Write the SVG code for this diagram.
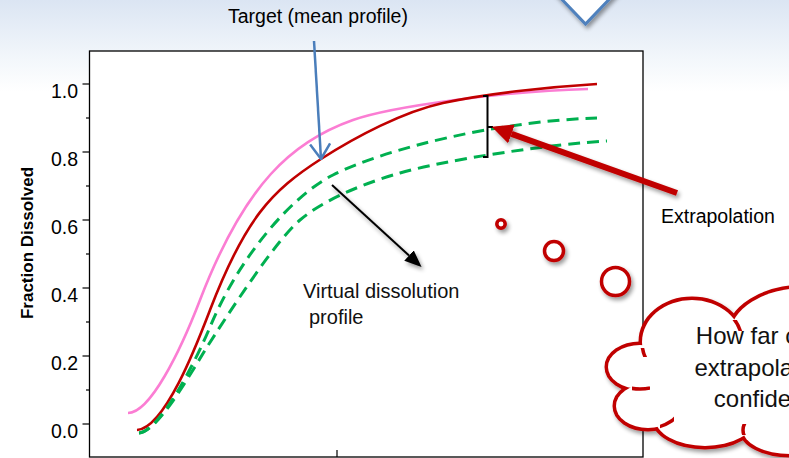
<svg xmlns="http://www.w3.org/2000/svg" width="789" height="458" viewBox="0 0 789 458">
  <defs>
    <linearGradient id="bg" x1="0" y1="0" x2="0" y2="458" gradientUnits="userSpaceOnUse">
      <stop offset="0" stop-color="#dbe5f3"/>
      <stop offset="0.13" stop-color="#f3f7fb"/>
      <stop offset="0.2" stop-color="#ffffff"/>
    </linearGradient>
    <filter id="shadow" x="-30%" y="-30%" width="170%" height="170%">
      <feGaussianBlur in="SourceAlpha" stdDeviation="2"/>
      <feOffset dx="2" dy="3"/>
      <feComponentTransfer><feFuncA type="linear" slope="0.4"/></feComponentTransfer>
      <feMerge><feMergeNode/><feMergeNode in="SourceGraphic"/></feMerge>
    </filter>
    <marker id="headBlack" viewBox="0 0 17 14" markerWidth="17" markerHeight="14" refX="0" refY="7" orient="auto" markerUnits="userSpaceOnUse">
      <path d="M0,0 L17,7 L0,14 Z" fill="#000"/>
    </marker>
    <marker id="headRed" viewBox="0 0 21 20" markerWidth="21" markerHeight="20" refX="0" refY="10" orient="auto" markerUnits="userSpaceOnUse">
      <path d="M0,0 L21,10 L0,20 Z" fill="#c00000"/>
    </marker>
    <marker id="headBlue" viewBox="0 0 17 22" markerWidth="17" markerHeight="22" refX="16" refY="11" orient="auto" markerUnits="userSpaceOnUse">
      <path d="M1,1 L16,11 L1,21" fill="none" stroke="#4a7ebb" stroke-width="2.5"/>
    </marker>
    <!-- cloud built from overlapping lobes -->
    <g id="cloudShape">
      <ellipse id="lobeUL" cx="692" cy="342" rx="50" ry="42"/>
      <ellipse id="lobeTop" cx="805" cy="335" rx="75" ry="47"/>
      <ellipse id="lobeL" cx="640" cy="367" rx="32" ry="22"/>
      <ellipse id="lobeBL" cx="648" cy="406" rx="32" ry="22"/>
      <ellipse id="lobeB" cx="705" cy="418" rx="50" ry="28"/>
      <ellipse id="lobeBR" cx="790" cy="430" rx="47" ry="24"/>
      <ellipse cx="740" cy="385" rx="85" ry="50"/>
    </g>
    <clipPath id="hookA"><rect x="724" y="320" width="22" height="11"/></clipPath>
    <clipPath id="hookB"><rect x="634" y="348" width="16" height="9"/></clipPath>
    <clipPath id="hookC"><rect x="632" y="381" width="18" height="14"/></clipPath>
    <clipPath id="hookD"><rect x="660" y="413" width="14" height="16"/></clipPath>
    <clipPath id="hookE"><rect x="738" y="424" width="12" height="11"/></clipPath>
    <style>
      .frame{fill:#fff;stroke:#000;stroke-width:1.3}
      .tick{stroke:#000;stroke-width:1.2}
      .lbl{font-family:"Liberation Sans",Arial,sans-serif;font-size:19.5px;fill:#000}
      .title{font-family:"Liberation Sans",Arial,sans-serif;font-size:17px;font-weight:bold;fill:#000}
      .note{font-family:"Liberation Sans",Arial,sans-serif;font-size:19.5px;fill:#000}
      .soft{font-family:"Liberation Sans",Arial,sans-serif;font-size:20px;fill:#111}
      .think{font-family:"Liberation Sans",Arial,sans-serif;font-size:24px;fill:#111}
      .pink{fill:none;stroke:#fb7dd3;stroke-width:2.6}
      .red{fill:none;stroke:#c00000;stroke-width:2.6}
      .green{fill:none;stroke:#00b050;stroke-width:3;stroke-dasharray:12 7}
      .bubble{fill:#fff;stroke:#c00000;stroke-width:3.5}
      .hook{fill:none;stroke:#c00000;stroke-width:3.5}
    </style>
  </defs>

  <!-- slide background -->
  <rect x="0" y="0" width="789" height="458" fill="url(#bg)"/>

  <!-- downward chevron at the top -->
  <g id="chevron" filter="url(#shadow)">
    <polygon points="551,-12 620,-12 585.5,24" fill="#fff" stroke="#4f81bd" stroke-width="3" stroke-linejoin="miter"/>
  </g>

  <!-- plot frame and axes -->
  <g id="axes">
    <rect class="frame" x="89.5" y="51" width="553.5" height="406"/>
    <g class="tick">
      <line x1="82.5" y1="84" x2="89.5" y2="84"/>
      <line x1="82.5" y1="152" x2="89.5" y2="152"/>
      <line x1="82.5" y1="220" x2="89.5" y2="220"/>
      <line x1="82.5" y1="288" x2="89.5" y2="288"/>
      <line x1="82.5" y1="356" x2="89.5" y2="356"/>
      <line x1="82.5" y1="424" x2="89.5" y2="424"/>
      <line x1="86" y1="118" x2="89.5" y2="118"/>
      <line x1="86" y1="186" x2="89.5" y2="186"/>
      <line x1="86" y1="254" x2="89.5" y2="254"/>
      <line x1="86" y1="322" x2="89.5" y2="322"/>
      <line x1="86" y1="390" x2="89.5" y2="390"/>
      <line x1="337" y1="450" x2="337" y2="457"/>
    </g>
    <g class="lbl" text-anchor="end">
      <text x="78" y="98">1.0</text>
      <text x="78" y="166">0.8</text>
      <text x="78" y="234">0.6</text>
      <text x="78" y="302">0.4</text>
      <text x="78" y="370">0.2</text>
      <text x="78" y="438">0.0</text>
    </g>
    <text class="title" transform="translate(33,243) rotate(-90)" text-anchor="middle">Fraction Dissolved</text>
  </g>

  <!-- dissolution curves -->
  <g id="curves">
    <path id="upper-profile" class="pink" d="M128,413 C150,413 180,352 200,300 C245,183 293,141 353,120 C393,106 508,91 588,89"/>
    <path id="mean-profile" class="red" d="M137,430 C165,428 197,344 210,310 C245,219 271,191 321,159 C356,136.6 403,111.8 443,103 C483,94.2 547,87 597,84"/>
    <path id="virtual-profile-a" class="green" d="M139,433 C160,431 196,361 210,327 C240,255 293,195 333,175 C388,147.5 500,121 597,118"/>
    <path id="virtual-profile-b" class="green" d="M139,433 C158,432 192,371 207,347 C227,316 275,241 300,220 C325,199 365,183 400,173 C445,160 550,144 607,141"/>
  </g>

  <!-- spread bracket -->
  <g id="bracket">
    <path d="M483,96 L487.5,96 L487.5,157 L483,157 M487.5,127 L493,127" fill="none" stroke="#000" stroke-width="2"/>
  </g>

  <!-- connectors -->
  <g id="connectors">
    <line x1="314" y1="41" x2="321" y2="159" stroke="#4a7ebb" stroke-width="2.5" marker-end="url(#headBlue)"/>
    <g filter="url(#shadow)">
      <line x1="332" y1="185" x2="409" y2="255.5" stroke="#000" stroke-width="2" marker-end="url(#headBlack)"/>
    </g>
    <g filter="url(#shadow)">
      <line x1="677" y1="193" x2="511.5" y2="133.9" stroke="#c00000" stroke-width="6" marker-end="url(#headRed)"/>
    </g>
  </g>

  <!-- labels -->
  <g id="target-label"><text class="note" x="228" y="23">Target (mean profile)</text></g>
  <g id="virtual-label">
    <text class="soft" x="303" y="298">Virtual dissolution</text>
    <text class="soft" x="309" y="324">profile</text>
  </g>
  <g id="extrapolation-label"><text class="note" x="661" y="222.7">Extrapolation</text></g>

  <!-- thought bubbles -->
  <g id="bubbles" filter="url(#shadow)">
    <circle class="bubble" cx="501" cy="224" r="4.2"/>
    <circle class="bubble" cx="554" cy="251" r="9.5"/>
    <circle class="bubble" cx="615.5" cy="281.5" r="14"/>
  </g>

  <!-- thought cloud -->
  <g id="cloud">
    <g filter="url(#shadow)">
      <use href="#cloudShape" fill="#fff" stroke="#c00000" stroke-width="7"/>
      <use href="#cloudShape" fill="#fff" stroke="none"/>
      <use href="#lobeUL" class="hook" clip-path="url(#hookA)"/>
      <use href="#lobeUL" class="hook" clip-path="url(#hookB)"/>
      <use href="#lobeL" class="hook" clip-path="url(#hookC)"/>
      <use href="#lobeBL" class="hook" clip-path="url(#hookD)"/>
      <use href="#lobeBR" class="hook" clip-path="url(#hookE)"/>
    </g>
    <g class="think" text-anchor="middle">
      <text x="778.5" y="344">How far can we</text>
      <text x="778.5" y="375.5">extrapolate with</text>
      <text x="778.5" y="407">confidence?</text>
    </g>
  </g>
</svg>
